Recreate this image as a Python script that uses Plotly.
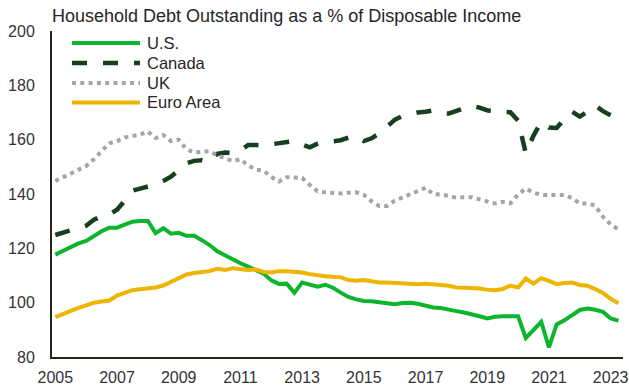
import plotly.graph_objects as go

# ---- data (quarterly, 2005Q1 onward) ----
quarters = [f"{y}Q{q}" for y in range(2005, 2024) for q in range(1, 5)][:74]

us = [117.7, 119.2, 120.6, 121.8, 122.7, 124.6, 126.3, 127.6, 127.6, 128.7,
      129.8, 130.1, 130.1, 125.6, 127.4, 125.4, 125.7, 124.6, 124.6, 123.0,
      121.2, 118.9, 117.3, 116.0, 114.5, 113.3, 112.1, 110.7, 108.2, 106.9,
      107.0, 103.6, 107.4, 106.8, 105.9, 106.6, 105.5, 103.7, 102.1, 101.2,
      100.6, 100.5, 100.2, 99.7, 99.4, 99.9, 100.0, 99.6, 98.8, 98.2,
      98.0, 97.6, 96.9, 96.4, 95.8, 95.0, 94.2, 94.8, 95.0, 95.0,
      95.0, 87.0, 90.0, 92.9, 83.5, 92.0, 93.5, 95.2, 97.3, 97.8,
      97.4, 96.6, 94.2, 93.4]

canada = [124.9, 125.8, 126.9, 127.5, 128.3, 130.5, 131.8, 132.4, 134.2, 137.5,
          141.2, 142.0, 142.6, 143.5, 144.8, 146.4, 148.8, 151.3, 152.2, 152.4,
          151.8, 154.8, 155.3, 155.1, 156.0, 158.0, 158.0, 157.8, 158.3, 158.8,
          159.2, 159.5, 158.2, 157.2, 158.5, 159.3, 159.4, 159.8, 160.8, 161.3,
          159.5, 160.5, 162.3, 165.0, 167.3, 168.7, 169.5, 170.0, 170.3, 170.8,
          169.8, 169.6, 170.6, 171.6, 172.5, 171.8, 170.8, 170.3, 170.2, 170.1,
          167.0, 155.0, 161.5, 166.6, 164.5, 164.3, 167.6, 170.3, 168.5, 170.3,
          172.6, 170.5, 169.0]

uk = [144.8, 146.2, 147.4, 148.6, 150.3, 152.8, 155.9, 158.7, 159.5, 160.8,
      161.3, 161.9, 163.0, 160.6, 161.7, 159.5, 160.0, 156.5, 155.3, 155.4,
      155.8, 154.2, 153.0, 152.1, 152.8, 150.5, 149.0, 148.6, 146.3, 144.6,
      146.2, 146.0, 145.9, 143.3, 141.0, 140.6, 140.3, 140.2, 140.5, 140.6,
      139.7, 137.3, 135.6, 135.6, 137.5, 138.7, 139.9, 141.0, 142.3, 139.9,
      139.8, 139.3, 138.6, 138.8, 138.8, 138.0, 137.1, 136.5, 137.1, 136.6,
      139.8, 142.0, 140.5, 139.7, 139.6, 139.6, 139.6, 138.5, 136.5, 136.5,
      135.7, 131.6, 128.8, 127.0]

euro = [94.7, 95.9, 97.1, 98.1, 99.0, 100.0, 100.4, 100.8, 102.6, 103.7,
        104.6, 104.9, 105.2, 105.6, 106.3, 107.8, 109.2, 110.4, 110.9, 111.2,
        111.6, 112.5, 112.0, 112.7, 112.2, 112.0, 112.2, 111.3, 111.1, 111.6,
        111.6, 111.5, 111.1, 110.5, 110.0, 109.7, 109.5, 109.4, 108.3, 108.1,
        108.3, 107.9, 107.4, 107.4, 107.2, 107.1, 106.9, 106.8, 107.0, 106.9,
        106.5, 106.2, 105.6, 105.5, 105.4, 105.2, 104.8, 104.6, 105.0, 106.3,
        105.6, 108.9, 107.0, 109.0, 108.0, 106.8, 107.2, 107.4, 106.5, 106.2,
        105.0, 103.6, 101.4, 99.8]

tick_years = [2005, 2007, 2009, 2011, 2013, 2015, 2017, 2019, 2021, 2023]
tick_labels = [str(y) for y in tick_years]
y_ticks = [80, 100, 120, 140, 160, 180, 200]

title_text = "Household Debt Outstanding as a % of Disposable Income"


def to_decimal(q):
    return int(q[:4]) + (int(q[5]) - 1) / 4.0


xq = [to_decimal(q) for q in quarters]

series = [
    ("U.S.", us, dict(color="#0db52d", width=4, dash="solid")),
    ("Canada", canada, dict(color="#163f1f", width=4.5, dash="15px,16px")),
    ("UK", uk, dict(color="#a5a5a8", width=4, dash="4px,4.3px")),
    ("Euro Area", euro, dict(color="#edb400", width=4, dash="solid")),
]

fig = go.Figure()
for name, vals, ln in series:
    fig.add_trace(go.Scatter(x=xq[:len(vals)], y=vals, mode="lines", name=name,
                             line=ln, showlegend=False))

# plot-area geometry in pixels (for the hand-placed legend)
W, H = 629, 387
ml, mr, mt, mb = 52, 6, 31, 30
pw, ph = W - ml - mr, H - mt - mb


def px2paper(px, py):
    return (px - ml) / pw, (H - mb - py) / ph


FONT = "Liberation Sans, Arial"
leg_rows = [43, 63, 83, 102.5]
for (name, vals, ln), ry in zip(series, leg_rows):
    x0, y0 = px2paper(72, ry)
    x1, _ = px2paper(140, ry)
    fig.add_shape(type="line", xref="paper", yref="paper", x0=x0, x1=x1, y0=y0, y1=y0,
                  line=dict(color=ln["color"], width=ln["width"], dash=ln["dash"]))
    tx, _ = px2paper(145, ry)
    fig.add_annotation(xref="paper", yref="paper", x=tx, y=y0, text=name,
                       showarrow=False, xanchor="left", yanchor="middle",
                       font=dict(size=16.5, color="#262626", family=FONT))

fig.add_annotation(xref="paper", yref="paper", x=px2paper(50, 0)[0], y=px2paper(0, 16)[1],
                   text=title_text, showarrow=False, xanchor="left", yanchor="middle",
                   font=dict(size=18, color="#262626", family=FONT))

fig.update_layout(
    width=W, height=H,
    margin=dict(l=ml, r=mr, t=mt, b=mb, pad=0, autoexpand=False),
    paper_bgcolor="white", plot_bgcolor="white",
    font=dict(family=FONT, size=16, color="#333333"),
    showlegend=False,
)
fig.update_xaxes(range=[2004.893, 2023.40], tickvals=tick_years, ticktext=tick_labels,
                 showgrid=False, zeroline=False, showline=True, linewidth=2,
                 linecolor="#24261a", ticks="outside", ticklen=5, tickcolor="rgba(0,0,0,0)",
                 tickfont=dict(size=16, color="#333333"), automargin=False)
fig.update_yaxes(range=[80, 200], tickvals=y_ticks, showgrid=False, zeroline=False,
                 showline=True, linewidth=2, linecolor="#24261a", ticks="outside",
                 ticklen=12, tickcolor="rgba(0,0,0,0)",
                 tickfont=dict(size=16, color="#333333"), automargin=False)

fig.write_html("out.html")
